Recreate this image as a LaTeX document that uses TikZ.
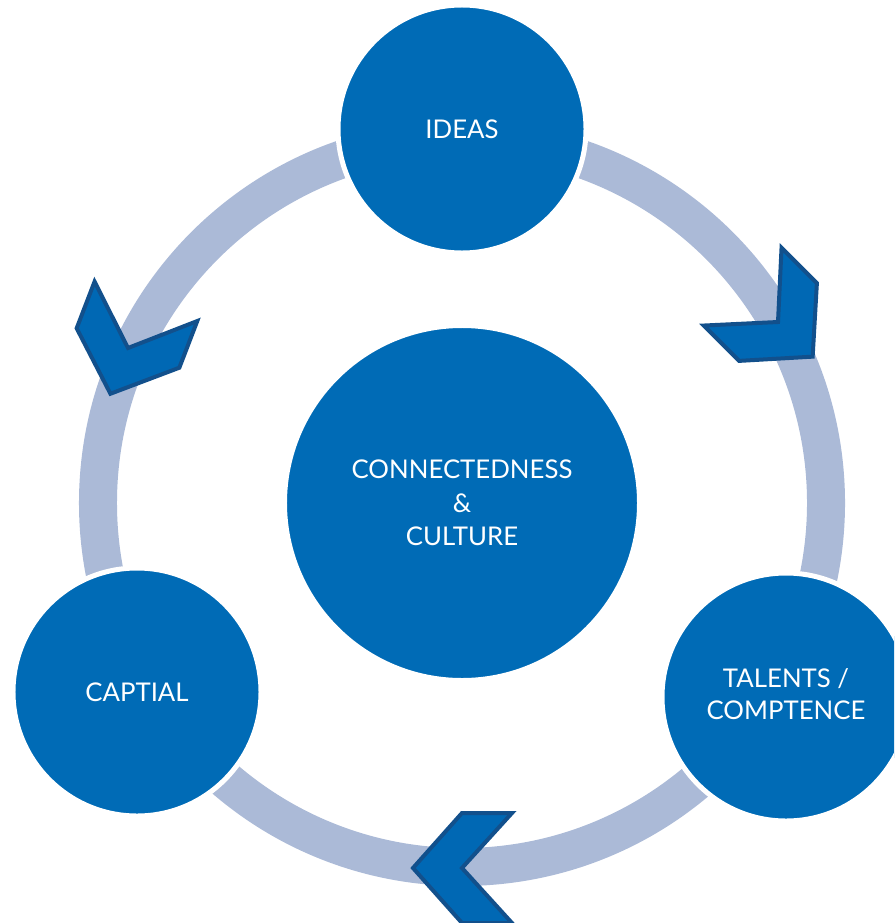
\documentclass[tikz,border=0pt]{standalone}
\usepackage{fontspec}
\setmainfont{Lato}
\usepackage{tikz}
\definecolor{circblue}{RGB}{0,107,182}
\definecolor{ringblue}{RGB}{171,186,215}
\definecolor{arrowfill}{RGB}{0,104,180}
\definecolor{arrowedge}{RGB}{18,80,140}

\begin{document}
\begin{tikzpicture}[x=0.03cm,y=-0.03cm]
\tikzstyle{stage} = [circle,fill=circblue,draw=white,line width=0.15cm,text=white,
  font=\fontsize{22}{27}\selectfont,align=center,inner sep=0pt,minimum size=7.44cm]
\tikzstyle{chevron} = [fill=arrowfill,draw=arrowedge,line width=0.12cm,line join=miter]

\useasboundingbox (0,0) rectangle (894,923);
\clip (0,0) rectangle (894,923);

% the cycle
\draw[ringblue,line width=1.14cm] (462,503) circle[radius=10.92cm];

\foreach \pos/\ang in {{(778,322)}/-45,{(462,868)}/180,{(128,348)}/-111}
  \draw[chevron,shift={\pos},rotate=\ang] (49,0) -- (0,55) -- (-50,55) -- (0,0) -- (-50,-55) -- (0,-55) -- cycle;

\node[stage] (ideas) at (462,129) {IDEAS};
\node[stage] (talents) at (786,697) {\raisebox{5pt}{\begin{tabular}{@{}c@{}}TALENTS /\\[0pt]COMPTENCE\end{tabular}}};
\node[stage] (captial) at (137,692) {CAPTIAL};
\node[stage,minimum size=10.65cm,font=\fontsize{22}{28.5}\selectfont] (culture) at (462,503) {CONNECTEDNESS\\\&\\CULTURE};

\end{tikzpicture}
\end{document}
